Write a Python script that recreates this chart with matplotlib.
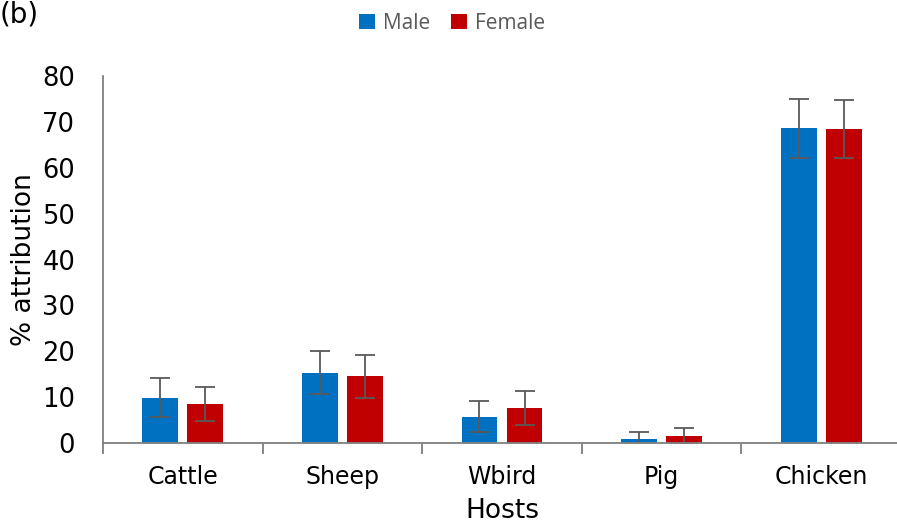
import matplotlib
matplotlib.use("Agg")
import matplotlib.pyplot as plt
import numpy as np
from matplotlib.ticker import FixedLocator, NullFormatter

hosts = ["Cattle", "Sheep", "Wbird", "Pig", "Chicken"]
male = [9.9, 15.3, 5.7, 0.9, 68.6]
male_err = [4.2, 4.7, 3.4, 1.6, 6.4]
female = [8.5, 14.5, 7.7, 1.5, 68.4]
female_err = [3.7, 4.6, 3.7, 1.8, 6.3]
yticks = [0, 10, 20, 30, 40, 50, 60, 70, 80]

male_color = "#0070C0"
female_color = "#C00000"
axis_grey = "#7F7F7F"
err_grey = "#595959"

fig = plt.figure(figsize=(8.97, 5.27), dpi=100)
ax = fig.add_axes([103 / 897, 1 - 443 / 527, 798 / 897, (443 - 76) / 527])

x = np.arange(len(hosts))
w = 0.225
off = 0.141
err_kw = dict(ecolor=err_grey, elinewidth=1.3, capsize=7, capthick=1.3)
ax.bar(x - off, male, w, color=male_color, yerr=male_err, error_kw=err_kw, label="Male", zorder=2)
ax.bar(x + off, female, w, color=female_color, yerr=female_err, error_kw=err_kw, label="Female", zorder=2)

ax.set_xlim(-0.5, len(hosts) - 0.5)
ax.set_ylim(0, 80)
ax.set_yticks(yticks)
ax.tick_params(axis="y", length=0, pad=20, labelsize=18.5, labelcolor="black")

ax.set_xticks(x)
ax.set_xticklabels(hosts)
ax.tick_params(axis="x", which="major", length=0, pad=16, labelsize=17)
ax.xaxis.set_minor_locator(FixedLocator(np.arange(-0.5, len(hosts), 1.0)))
ax.xaxis.set_minor_formatter(NullFormatter())
ax.tick_params(axis="x", which="minor", length=8, width=1.3, color=axis_grey, direction="out")

for s in ["top", "right"]:
    ax.spines[s].set_visible(False)
for s in ["left", "bottom"]:
    ax.spines[s].set_color(axis_grey)
    ax.spines[s].set_linewidth(1.3)

ax.set_xlabel("Hosts", fontsize=19, labelpad=6)
ax.set_ylabel("% attribution", fontsize=19)
ax.yaxis.set_label_coords(-66 / 798, 0.5)

leg = fig.legend(loc="center", bbox_to_anchor=(452 / 897, 1 - 23 / 527), ncol=2,
                 frameon=False, handlelength=0.75, handleheight=0.75, handletextpad=0.4,
                 columnspacing=1.0, prop={"family": "Open Sans", "size": 15})
for t in leg.get_texts():
    t.set_color("#595959")

fig.text(0, 1 - 22 / 527, "(b)", fontsize=20, ha="left", va="baseline")

fig.savefig("out.png", dpi=100)
